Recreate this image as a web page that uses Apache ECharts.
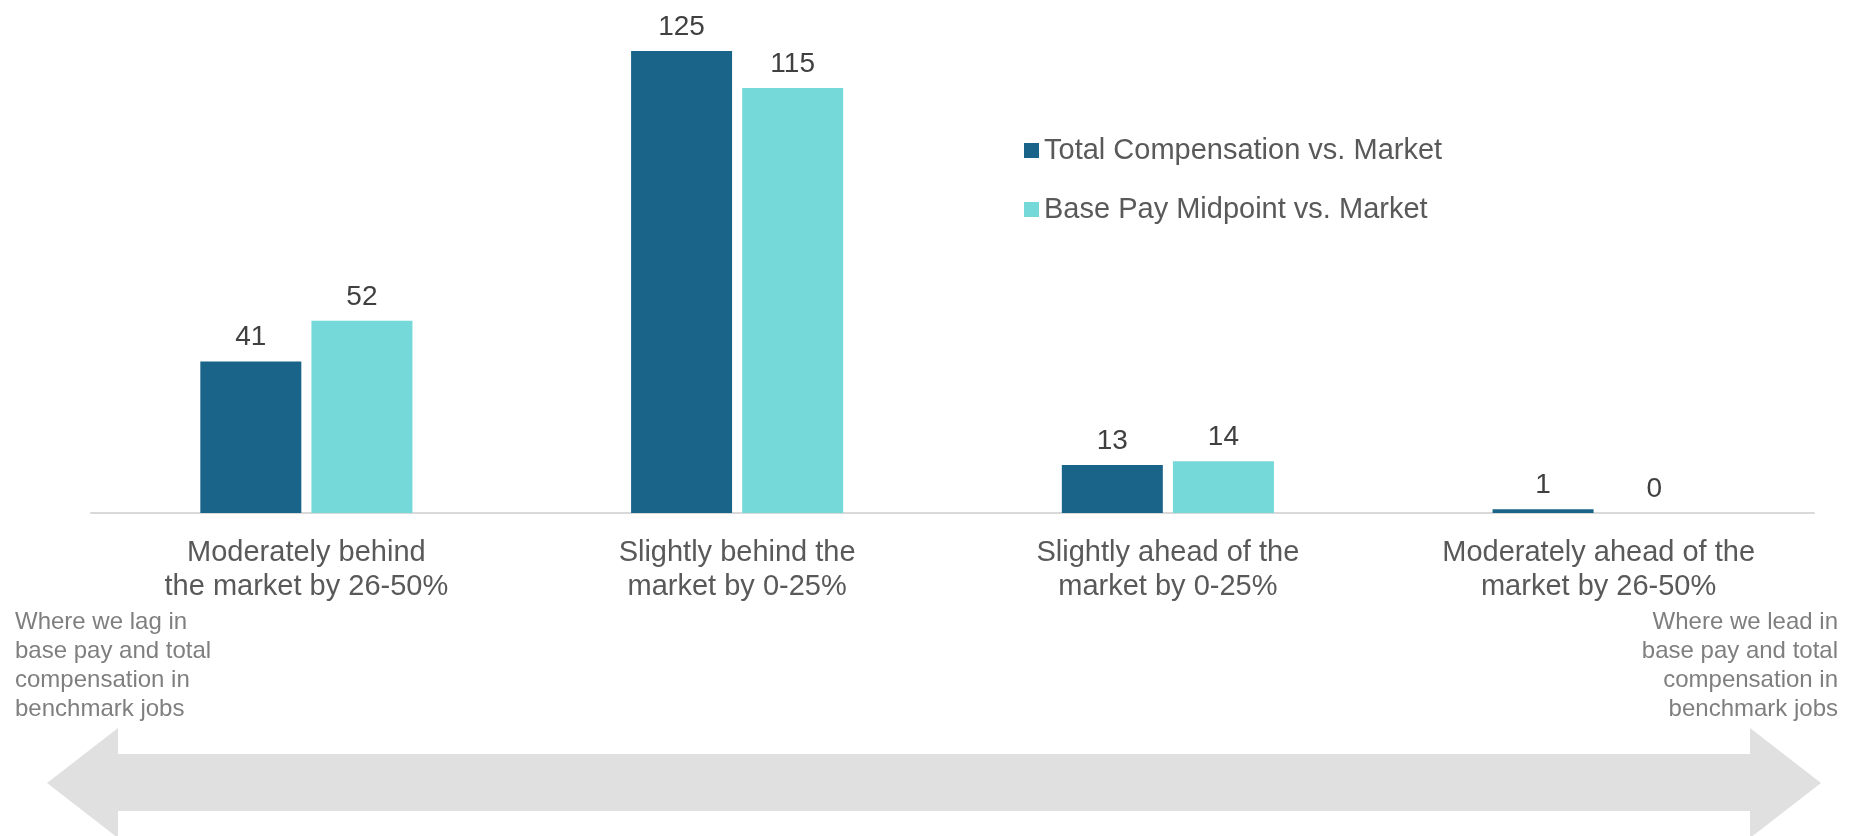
<!DOCTYPE html>
<html>
<head>
<meta charset="utf-8">
<title>Pay vs. Market</title>
<script src="https://cdn.jsdelivr.net/npm/echarts@6/dist/echarts.min.js"></script>
<style>
  html, body { margin: 0; padding: 0; background: #fff; }
  #chart { width: 1857px; height: 836px; }
</style>
</head>
<body>
<div id="chart"></div>
<script>
// categories along the x axis
const categories = [
  'Moderately behind\nthe market by 26-50%',
  'Slightly behind the\nmarket by 0-25%',
  'Slightly ahead of the\nmarket by 0-25%',
  'Moderately ahead of the\nmarket by 26-50%'
];
const seriesNames = ['Total Compensation vs. Market', 'Base Pay Midpoint vs. Market'];
const totalComp = [41, 125, 13, 1];
const basePay = [52, 115, 14, 0];

const leftNote = 'Where we lag in\nbase pay and total\ncompensation in\nbenchmark jobs';
const rightNote = 'Where we lead in\nbase pay and total\ncompensation in\nbenchmark jobs';

const FONT = '"Liberation Sans", Arial, sans-serif';
const chart = echarts.init(document.getElementById('chart'));

const labelStyle = {
  show: true,
  position: 'top',
  distance: 10,
  fontSize: 28,
  fontFamily: FONT,
  color: '#404040'
};

chart.setOption({
  animation: false,
  textStyle: { fontFamily: FONT },
  grid: { left: 91, right: 43, top: 14, bottom: 323 },
  legend: {
    orient: 'vertical',
    left: 1019,
    top: 131,
    itemWidth: 15,
    itemHeight: 15,
    itemGap: 30,
    icon: 'rect',
    textStyle: { fontSize: 29, color: '#595959', fontFamily: FONT },
    data: seriesNames
  },
  xAxis: {
    type: 'category',
    data: categories,
    axisLine: { lineStyle: { color: '#d9d9d9', width: 2 } },
    axisTick: { show: false },
    axisLabel: {
      fontSize: 29,
      lineHeight: 34,
      color: '#595959',
      margin: 23,
      interval: 0
    }
  },
  yAxis: {
    type: 'value',
    min: 0,
    max: 135,
    show: false
  },
  series: [
    {
      name: seriesNames[0],
      type: 'bar',
      data: totalComp,
      barWidth: 101,
      barGap: '10%',
      itemStyle: { color: '#1b6489' },
      label: labelStyle
    },
    {
      name: seriesNames[1],
      type: 'bar',
      data: basePay,
      barWidth: 101,
      itemStyle: { color: '#76d9d9' },
      label: labelStyle
    }
  ],
  graphic: [
    {
      type: 'polygon',
      silent: true,
      z: -1,
      shape: {
        points: [
          [47, 783], [118, 728], [118, 754], [1750, 754], [1750, 728],
          [1821, 783], [1750, 838], [1750, 811], [118, 811], [118, 838]
        ]
      },
      style: { fill: '#dfe0df' }
    },
    {
      type: 'text',
      style: {
        x: 15,
        y: 608,
        text: leftNote,
        fontSize: 24,
        lineHeight: 29,
        fill: '#7f7f7f',
        fontFamily: FONT,
        align: 'left',
        verticalAlign: 'top'
      }
    },
    {
      type: 'text',
      style: {
        x: 1838,
        y: 608,
        text: rightNote,
        fontSize: 24,
        lineHeight: 29,
        fill: '#7f7f7f',
        fontFamily: FONT,
        align: 'right',
        verticalAlign: 'top'
      }
    }
  ]
});
</script>
</body>
</html>
